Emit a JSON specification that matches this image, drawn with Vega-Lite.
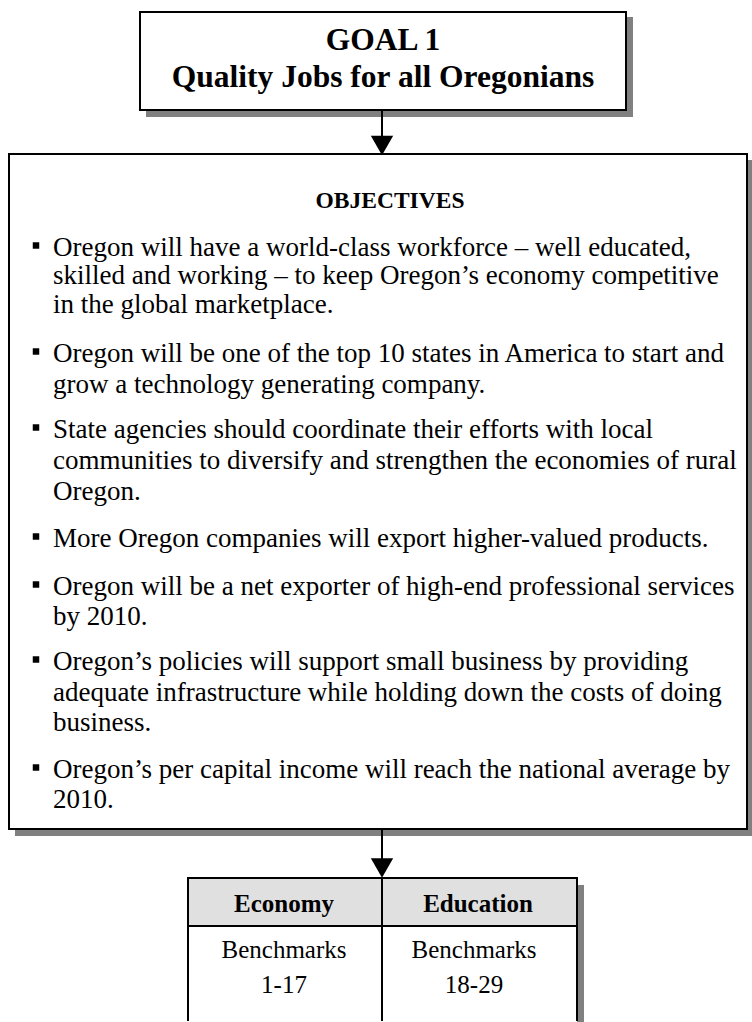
{
  "$schema": "https://vega.github.io/schema/vega-lite/v6.json",
  "width": 752,
  "height": 1022,
  "autosize": {"type": "fit", "contains": "padding"},
  "padding": 0,
  "background": "white",
  "config": {"view": {"stroke": null}},
  "datasets": {
    "shadows": [
      {"box": "goal", "x": 146, "x2": 633, "y": 17, "y2": 117},
      {"box": "objectives", "x": 15, "x2": 752, "y": 160, "y2": 836},
      {"box": "table", "x": 194, "x2": 584, "y": 885, "y2": 1022}
    ],
    "boxes": [
      {"box": "goal", "x": 140, "x2": 626, "y": 12, "y2": 110},
      {"box": "objectives", "x": 9, "x2": 747, "y": 154, "y2": 829}
    ],
    "tablefill": [
      {"cell": "table", "x": 188, "x2": 577, "y": 878, "y2": 1022}
    ],
    "header": [
      {"cell": "header", "x": 188, "x2": 577, "y": 878, "y2": 926}
    ],
    "vlines": [
      {"part": "arrow 1", "x": 382, "y": 110, "y2": 146},
      {"part": "arrow 2", "x": 382, "y": 829, "y2": 868},
      {"part": "table left", "x": 188, "y": 877, "y2": 1021},
      {"part": "divider", "x": 382, "y": 878, "y2": 1021},
      {"part": "table right", "x": 577, "y": 877, "y2": 1021}
    ],
    "hlines": [
      {"part": "table top", "x": 187, "x2": 578, "y": 878},
      {"part": "header rule", "x": 188, "x2": 577, "y": 926}
    ],
    "heads": [
      {"part": "arrow 1", "x": 382, "y": 145.5},
      {"part": "arrow 2", "x": 382, "y": 868}
    ],
    "bullets": [
      {"item": 1, "x": 36, "y": 245.5},
      {"item": 2, "x": 36, "y": 351.5},
      {"item": 3, "x": 36, "y": 427.5},
      {"item": 4, "x": 36, "y": 536.5},
      {"item": 5, "x": 36, "y": 584.5},
      {"item": 6, "x": 36, "y": 659.5},
      {"item": 7, "x": 36, "y": 767.5}
    ],
    "titles": [
      {"text": "GOAL 1", "x": 383, "y": 50},
      {"text": "Quality Jobs for all Oregonians", "x": 383, "y": 87}
    ],
    "subtitle": [
      {"text": "OBJECTIVES", "x": 390, "y": 208}
    ],
    "body": [
      {"text": "Oregon will have a world-class workforce – well educated,", "x": 53, "y": 256},
      {"text": "skilled and working – to keep Oregon’s economy competitive", "x": 53, "y": 284},
      {"text": "in the global marketplace.", "x": 53, "y": 313},
      {"text": "Oregon will be one of the top 10 states in America to start and", "x": 53, "y": 362},
      {"text": "grow a technology generating company.", "x": 53, "y": 393},
      {"text": "State agencies should coordinate their efforts with local", "x": 53, "y": 438},
      {"text": "communities to diversify and strengthen the economies of rural", "x": 53, "y": 469},
      {"text": "Oregon.", "x": 53, "y": 500},
      {"text": "More Oregon companies will export higher-valued products.", "x": 53, "y": 547},
      {"text": "Oregon will be a net exporter of high-end professional services", "x": 53, "y": 595},
      {"text": "by 2010.", "x": 53, "y": 625},
      {"text": "Oregon’s policies will support small business by providing", "x": 53, "y": 670},
      {"text": "adequate infrastructure while holding down the costs of doing", "x": 53, "y": 701},
      {"text": "business.", "x": 53, "y": 731},
      {"text": "Oregon’s per capital income will reach the national average by", "x": 53, "y": 778},
      {"text": "2010.", "x": 53, "y": 808}
    ],
    "tablehead": [
      {"text": "Economy", "x": 284, "y": 912},
      {"text": "Education", "x": 478, "y": 912}
    ],
    "tablebody": [
      {"text": "Benchmarks", "x": 284, "y": 958},
      {"text": "1-17", "x": 284, "y": 993},
      {"text": "Benchmarks", "x": 474, "y": 958},
      {"text": "18-29", "x": 474, "y": 993}
    ]
  },
  "layer": [
    {
      "data": {"name": "shadows"},
      "mark": {"type": "rect", "fill": "#808080"},
      "encoding": {
        "x": {"field": "x", "type": "quantitative", "scale": {"domain": [0, 752], "nice": false, "zero": false}, "axis": null},
        "x2": {"field": "x2"},
        "y": {"field": "y", "type": "quantitative", "scale": {"domain": [0, 1022], "nice": false, "zero": false, "reverse": true}, "axis": null},
        "y2": {"field": "y2"}
      }
    },
    {
      "data": {"name": "boxes"},
      "mark": {"type": "rect", "fill": "white", "stroke": "black", "strokeWidth": 2},
      "encoding": {
        "x": {"field": "x", "type": "quantitative", "scale": {"domain": [0, 752], "nice": false, "zero": false}, "axis": null},
        "x2": {"field": "x2"},
        "y": {"field": "y", "type": "quantitative", "scale": {"domain": [0, 1022], "nice": false, "zero": false, "reverse": true}, "axis": null},
        "y2": {"field": "y2"}
      }
    },
    {
      "data": {"name": "tablefill"},
      "mark": {"type": "rect", "fill": "white"},
      "encoding": {
        "x": {"field": "x", "type": "quantitative", "scale": {"domain": [0, 752], "nice": false, "zero": false}, "axis": null},
        "x2": {"field": "x2"},
        "y": {"field": "y", "type": "quantitative", "scale": {"domain": [0, 1022], "nice": false, "zero": false, "reverse": true}, "axis": null},
        "y2": {"field": "y2"}
      }
    },
    {
      "data": {"name": "header"},
      "mark": {"type": "rect", "fill": "#e0e0e0"},
      "encoding": {
        "x": {"field": "x", "type": "quantitative", "scale": {"domain": [0, 752], "nice": false, "zero": false}, "axis": null},
        "x2": {"field": "x2"},
        "y": {"field": "y", "type": "quantitative", "scale": {"domain": [0, 1022], "nice": false, "zero": false, "reverse": true}, "axis": null},
        "y2": {"field": "y2"}
      }
    },
    {
      "data": {"name": "vlines"},
      "mark": {"type": "rule", "color": "black", "strokeWidth": 2},
      "encoding": {
        "x": {"field": "x", "type": "quantitative", "scale": {"domain": [0, 752], "nice": false, "zero": false}, "axis": null},
        "y": {"field": "y", "type": "quantitative", "scale": {"domain": [0, 1022], "nice": false, "zero": false, "reverse": true}, "axis": null},
        "y2": {"field": "y2"}
      }
    },
    {
      "data": {"name": "hlines"},
      "mark": {"type": "rule", "color": "black", "strokeWidth": 2},
      "encoding": {
        "x": {"field": "x", "type": "quantitative", "scale": {"domain": [0, 752], "nice": false, "zero": false}, "axis": null},
        "x2": {"field": "x2"},
        "y": {"field": "y", "type": "quantitative", "scale": {"domain": [0, 1022], "nice": false, "zero": false, "reverse": true}, "axis": null}
      }
    },
    {
      "data": {"name": "heads"},
      "mark": {"type": "point", "shape": "triangle-down", "filled": true, "fill": "black", "size": 500, "opacity": 1},
      "encoding": {
        "x": {"field": "x", "type": "quantitative", "scale": {"domain": [0, 752], "nice": false, "zero": false}, "axis": null},
        "y": {"field": "y", "type": "quantitative", "scale": {"domain": [0, 1022], "nice": false, "zero": false, "reverse": true}, "axis": null}
      }
    },
    {
      "data": {"name": "bullets"},
      "mark": {"type": "point", "shape": "square", "filled": true, "fill": "black", "size": 42, "opacity": 1},
      "encoding": {
        "x": {"field": "x", "type": "quantitative", "scale": {"domain": [0, 752], "nice": false, "zero": false}, "axis": null},
        "y": {"field": "y", "type": "quantitative", "scale": {"domain": [0, 1022], "nice": false, "zero": false, "reverse": true}, "axis": null}
      }
    },
    {
      "data": {"name": "titles"},
      "mark": {"type": "text", "font": "Liberation Serif", "fontWeight": "bold", "fontSize": 31.5, "align": "center", "baseline": "alphabetic", "color": "black"},
      "encoding": {
        "x": {"field": "x", "type": "quantitative", "scale": {"domain": [0, 752], "nice": false, "zero": false}, "axis": null},
        "y": {"field": "y", "type": "quantitative", "scale": {"domain": [0, 1022], "nice": false, "zero": false, "reverse": true}, "axis": null},
        "text": {"field": "text"}
      }
    },
    {
      "data": {"name": "subtitle"},
      "mark": {"type": "text", "font": "Liberation Serif", "fontWeight": "bold", "fontSize": 23.5, "align": "center", "baseline": "alphabetic", "color": "black"},
      "encoding": {
        "x": {"field": "x", "type": "quantitative", "scale": {"domain": [0, 752], "nice": false, "zero": false}, "axis": null},
        "y": {"field": "y", "type": "quantitative", "scale": {"domain": [0, 1022], "nice": false, "zero": false, "reverse": true}, "axis": null},
        "text": {"field": "text"}
      }
    },
    {
      "data": {"name": "body"},
      "mark": {"type": "text", "font": "Liberation Serif", "fontSize": 27, "align": "left", "baseline": "alphabetic", "color": "black"},
      "encoding": {
        "x": {"field": "x", "type": "quantitative", "scale": {"domain": [0, 752], "nice": false, "zero": false}, "axis": null},
        "y": {"field": "y", "type": "quantitative", "scale": {"domain": [0, 1022], "nice": false, "zero": false, "reverse": true}, "axis": null},
        "text": {"field": "text"}
      }
    },
    {
      "data": {"name": "tablehead"},
      "mark": {"type": "text", "font": "Liberation Serif", "fontWeight": "bold", "fontSize": 25, "align": "center", "baseline": "alphabetic", "color": "black"},
      "encoding": {
        "x": {"field": "x", "type": "quantitative", "scale": {"domain": [0, 752], "nice": false, "zero": false}, "axis": null},
        "y": {"field": "y", "type": "quantitative", "scale": {"domain": [0, 1022], "nice": false, "zero": false, "reverse": true}, "axis": null},
        "text": {"field": "text"}
      }
    },
    {
      "data": {"name": "tablebody"},
      "mark": {"type": "text", "font": "Liberation Serif", "fontSize": 25, "align": "center", "baseline": "alphabetic", "color": "black"},
      "encoding": {
        "x": {"field": "x", "type": "quantitative", "scale": {"domain": [0, 752], "nice": false, "zero": false}, "axis": null},
        "y": {"field": "y", "type": "quantitative", "scale": {"domain": [0, 1022], "nice": false, "zero": false, "reverse": true}, "axis": null},
        "text": {"field": "text"}
      }
    }
  ]
}
